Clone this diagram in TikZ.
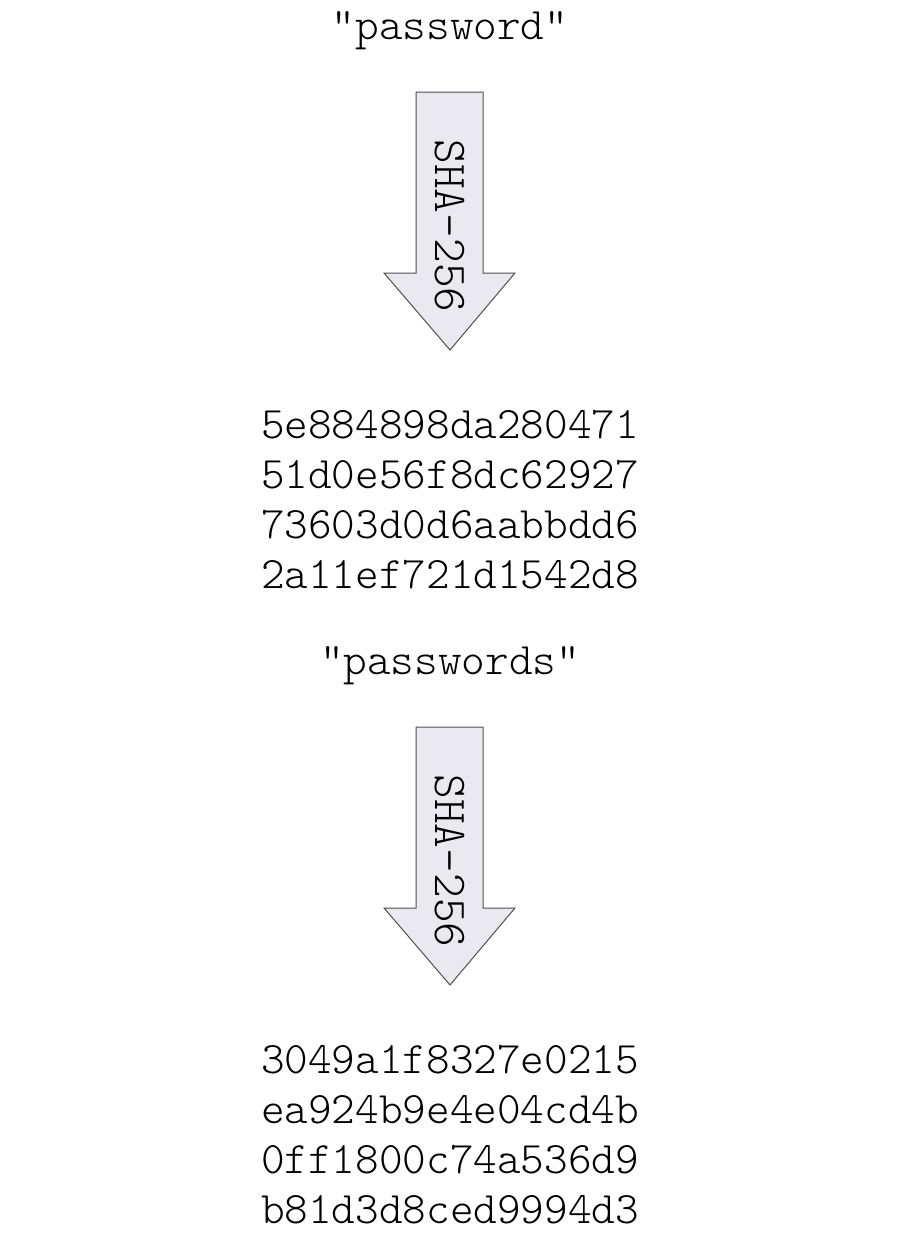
\documentclass[tikz,border=0pt]{standalone}
\usepackage{fontspec}
\setmonofont{Latin Modern Mono Light}
\definecolor{arrowfill}{RGB}{233,233,239}
\definecolor{arrowline}{RGB}{80,80,80}
\begin{document}
\begin{tikzpicture}[x=1pt,y=-1pt,
  mono/.style={font=\ttfamily\fontsize{45}{50}\selectfont, inner sep=0pt, align=center},
  bigarrow/.style={fill=arrowfill, draw=arrowline, line width=1pt, line join=miter},
  arrowlabel/.style={font=\ttfamily\fontsize{47}{50}\selectfont, inner sep=0pt, rotate=-90}]
\useasboundingbox (0,0) rectangle (900,1240);
% first block
\node[mono] (in1) at (450,31) {"password"};
\draw[bigarrow] (416,92) -- (483,92) -- (483,273) -- (515,273) -- (450,350) -- (384,273) -- (416,273) -- cycle;
\node[arrowlabel] (sha1) at (450,226) {SHA-256};
\node[mono] (out1) at (450,500) {5e884898da280471\\51d0e56f8dc62927\\73603d0d6aabbdd6\\2a11ef721d1542d8};
% second block
\node[mono] (in2) at (450,666) {"passwords"};
\draw[bigarrow] (416,727) -- (483,727) -- (483,908) -- (515,908) -- (450,985) -- (384,908) -- (416,908) -- cycle;
\node[arrowlabel] (sha2) at (450,861) {SHA-256};
\node[mono] (out2) at (450,1135) {3049a1f8327e0215\\ea924b9e4e04cd4b\\0ff1800c74a536d9\\b81d3d8ced9994d3};
\end{tikzpicture}
\end{document}
